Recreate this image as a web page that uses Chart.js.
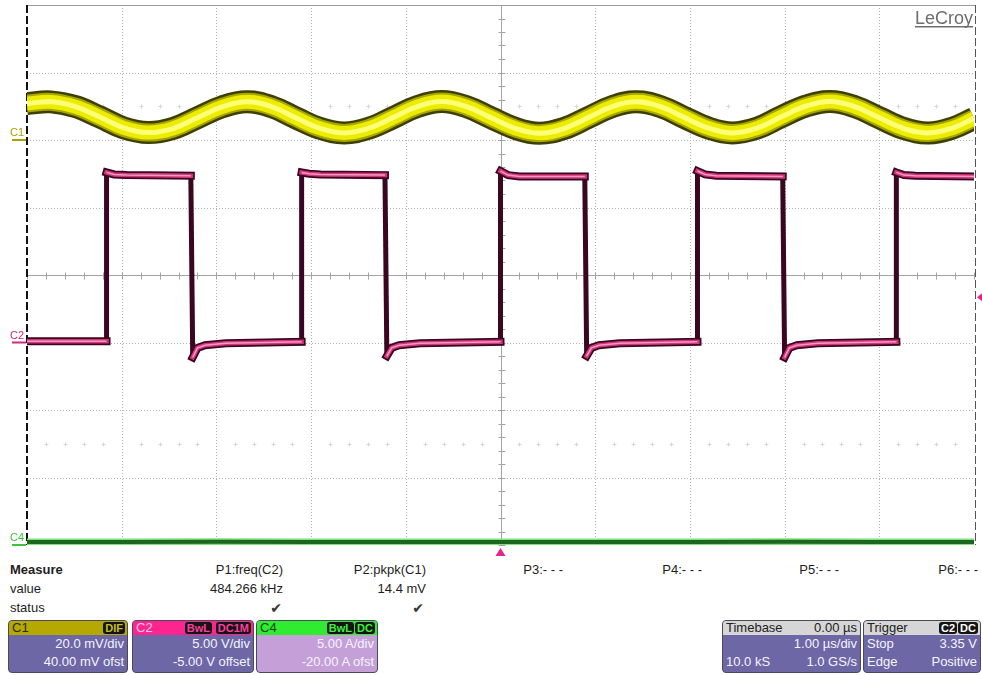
<!DOCTYPE html>
<html>
<head>
<meta charset="utf-8">
<script src="https://cdn.jsdelivr.net/npm/chart.js@4.4.1/dist/chart.umd.min.js"></script>
<style>
body{margin:0;background:#fff;width:982px;height:675px;overflow:hidden;position:relative;font-family:"Liberation Sans",Arial,sans-serif}
#scope{position:absolute;left:0;top:0}
.m{position:absolute;font-size:13px;color:#1e1e1e;white-space:nowrap;line-height:16px}
.r{text-align:right;width:140px}
.chk{font-family:"DejaVu Sans";font-size:14px;color:#333}
.panel{position:absolute;top:620px;height:51px;border:1px solid #4a4a5a;border-radius:4px;overflow:hidden;background:#6d67a6;color:#f4f4ff;font-size:13px}
.hd{height:14px;line-height:14px;padding:0 3px;position:relative;font-size:13px}
.row{height:18px;line-height:18px;padding:0 3px;text-align:right;position:relative}
.row span.l{position:absolute;left:3px}
.badge{position:absolute;top:1px;height:12px;line-height:12px;background:#141414;border-radius:3px;padding:0 2px;font-size:11px;font-weight:bold}
</style>
</head>
<body>
<canvas id="scope" width="982" height="556"></canvas>

<div class="m" style="left:10px;top:562px;font-weight:bold">Measure</div>
<div class="m" style="left:10px;top:581px">value</div>
<div class="m" style="left:10px;top:600px">status</div>

<div class="m r" style="left:143px;top:562px">P1:freq(C2)</div>
<div class="m r" style="left:143px;top:581px">484.266 kHz</div>
<div class="m r chk" style="left:142px;top:600px">✔</div>
<div class="m r" style="left:286px;top:562px">P2:pkpk(C1)</div>
<div class="m r" style="left:286px;top:581px">14.4 mV</div>
<div class="m r chk" style="left:284px;top:600px">✔</div>
<div class="m r" style="left:423px;top:562px">P3:- - -</div>
<div class="m r" style="left:562px;top:562px">P4:- - -</div>
<div class="m r" style="left:699px;top:562px">P5:- - -</div>
<div class="m r" style="left:838px;top:562px">P6:- - -</div>

<div class="panel" style="left:8px;width:118px">
  <div class="hd" style="background:#b5a800;color:#2a2a10">C1<span class="badge" style="right:2px;color:#c8bc20">DIF</span></div>
  <div class="row">20.0 mV/div</div>
  <div class="row">40.00 mV ofst</div>
</div>
<div class="panel" style="left:132px;width:120px">
  <div class="hd" style="background:#ff2590;color:#ffc8e4">C2<span class="badge" style="right:2px;color:#ff3d9c">DC1M</span><span class="badge" style="right:41px;color:#ff3d9c">BwL</span></div>
  <div class="row">5.00 V/div</div>
  <div class="row">-5.00 V offset</div>
</div>
<div class="panel" style="left:256px;width:120px;background:#c5a0d8">
  <div class="hd" style="background:#30ec30;color:#134013">C4<span class="badge" style="right:2px;color:#3cf03c">DC</span><span class="badge" style="right:23px;color:#3cf03c">BwL</span></div>
  <div class="row">5.00 A/div</div>
  <div class="row">-20.00 A ofst</div>
</div>
<div class="panel" style="left:722px;width:137px">
  <div class="hd" style="background:#d6d6d6;color:#222">Timebase<span style="position:absolute;right:3px">0.00 µs</span></div>
  <div class="row">1.00 µs/div</div>
  <div class="row"><span class="l">10.0 kS</span>1.0 GS/s</div>
</div>
<div class="panel" style="left:863px;width:116px">
  <div class="hd" style="background:#d6d6d6;color:#222">Trigger<span class="badge" style="right:2px;color:#fff">DC</span><span class="badge" style="right:23px;color:#fff">C2</span></div>
  <div class="row"><span class="l">Stop</span>3.35 V</div>
  <div class="row"><span class="l">Edge</span>Positive</div>
</div>

<script>
// channel settings, as shown in the panels
const c1Scale = 20, c1Offset = 40;     // mV/div, mV
const c2Scale = 5, c2Offset = -5;      // V/div, V
const c4Scale = 5, c4Offset = -20;     // A/div, A
const trigLevel = 3.35;                // V on C2

// C1: ripple (mV) vs time (us)
const c1Time = [-5.00, -4.75, -4.49, -4.23, -3.98, -3.72, -3.46, -3.20, -2.94, -2.68,
  -2.42, -2.17, -1.91, -1.65, -1.39, -1.13, -0.88, -0.62, -0.36, -0.10,
  0.16, 0.41, 0.67, 0.93, 1.18, 1.43, 1.69, 1.94, 2.20, 2.45,
  2.71, 2.96, 3.22, 3.48, 3.74, 4.00, 4.26, 4.52, 4.78, 5.00];
const c1Ripple = [10.8, 11.3, 9.9, 6.8, 3.6, 2.2, 3.4, 6.6, 9.8, 11.3,
  9.9, 6.7, 3.5, 2.1, 3.5, 6.7, 9.9, 11.4, 9.9, 6.6,
  3.4, 2.0, 3.4, 6.7, 9.9, 11.3, 9.9, 6.7, 3.5, 2.1,
  3.5, 6.8, 10.0, 11.4, 9.9, 6.6, 3.4, 2.1, 3.6, 6.4];

// C2: switch node (V) vs time (us)
const c2Time = [-5.00, -4.16, -4.16, -4.08, -3.95, -3.27, -3.25, -3.20, -3.12, -2.90, -2.10,
  -2.10, -2.02, -1.90, -1.22, -1.20, -1.15, -1.07, -0.85, 0.00,
  0.00, 0.08, 0.20, 0.89, 0.91, 0.96, 1.04, 1.26, 2.08,
  2.08, 2.16, 2.28, 2.98, 3.00, 3.05, 3.13, 3.35, 4.18,
  4.18, 4.26, 4.38, 5.00];
const c2Volts = [0.1, 0.1, 12.6, 12.45, 12.4, 12.35, -1.1, -0.4, -0.2, -0.05, 0.05,
  12.6, 12.5, 12.45, 12.4, -1.0, -0.4, -0.2, -0.05, 0.05,
  12.7, 12.4, 12.3, 12.3, -1.0, -0.4, -0.2, -0.05, 0.05,
  12.7, 12.45, 12.35, 12.3, -1.1, -0.4, -0.2, -0.05, 0.05,
  12.6, 12.4, 12.35, 12.3];

// C4: current (A) vs time (us)
const c4Time = [-5, -4, -3, -2, -1, 0, 1, 2, 3, 4, 5];
const c4Amps = [0.22, 0.22, 0.24, 0.22, 0.23, 0.22, 0.22, 0.23, 0.24, 0.22, 0.22];

const toDiv = (v, scale, offset) => (v + offset) / scale;
const pts = (ts, vs, scale, offset) => ts.map((t, i) => ({x: t, y: toDiv(vs[i], scale, offset)}));

const isEdge = c => Math.abs(c.p1.parsed.x - c.p0.parsed.x) < 0.03;

const scopeGrid = {
  id: 'scopeGrid',
  beforeDatasetsDraw(chart) {
    const {ctx, chartArea: a, scales: {x, y}} = chart;
    const line = (x0, y0, x1, y1) => { ctx.beginPath(); ctx.moveTo(x0, y0); ctx.lineTo(x1, y1); ctx.stroke(); };
    ctx.save();
    ctx.lineWidth = 1;
    ctx.strokeStyle = '#b2b2b2';
    ctx.setLineDash([1, 2]);
    for (let i = -4; i <= 4; i++) {
      if (i === 0) continue;
      const px = Math.round(x.getPixelForValue(i)) + 0.5;
      line(px, a.top, px, a.bottom);
    }
    for (let j = -3; j <= 3; j++) {
      if (j === 0) continue;
      const py = Math.round(y.getPixelForValue(j)) + 0.5;
      line(a.left, py, a.right, py);
    }
    ctx.setLineDash([]);
    // faint sub-division marks
    ctx.strokeStyle = '#d6d6d6';
    [-2.5, 2.5].forEach(d => {
      const py = Math.round(y.getPixelForValue(d)) + 0.5;
      for (let k = -24; k <= 24; k++) {
        if (k % 5 === 0) continue;
        const px = Math.round(x.getPixelForValue(k / 5)) + 0.5;
        line(px - 2, py, px + 2, py);
        line(px, py - 2, px, py + 2);
      }
    });
    ctx.strokeStyle = '#a4a4a4';
    const cx = Math.round(x.getPixelForValue(0)) + 0.5;
    const cy = Math.round(y.getPixelForValue(0)) + 0.5;
    line(cx, a.top, cx, a.bottom);
    line(a.left, cy, a.right, cy);
    for (let k = -25; k <= 25; k++) {
      const px = Math.round(x.getPixelForValue(k / 5)) + 0.5;
      line(px, cy - 3, px, cy + 4);
    }
    for (let k = -20; k <= 20; k++) {
      const py = Math.round(y.getPixelForValue(k / 5)) + 0.5;
      line(cx - 3, py, cx + 4, py);
    }
    ctx.strokeStyle = '#9c9c9c';
    line(a.left, a.top + 0.5, a.right + 1, a.top + 0.5);
    ctx.strokeStyle = '#111';
    ctx.lineWidth = 2;
    ctx.setLineDash([8, 3]);
    line(a.left, a.top, a.left, a.bottom);
    ctx.lineWidth = 1;
    ctx.strokeStyle = '#555';
    line(a.right + 1.5, a.top, a.right + 1.5, a.bottom);
    ctx.restore();
  },
  afterDraw(chart) {
    const {ctx, chartArea: a, scales: {x, y}} = chart;
    ctx.save();
    ctx.font = '11px "Liberation Sans", Arial, sans-serif';
    const marks = [
      ['C1', toDiv(0, c1Scale, c1Offset), '#aba000'],
      ['C2', toDiv(0, c2Scale, c2Offset), '#d02c78'],
      ['C4', toDiv(0, c4Scale, c4Offset), '#3cc43c']
    ];
    marks.forEach(([name, d, col]) => {
      const py = y.getPixelForValue(d);
      ctx.fillStyle = col;
      ctx.fillText(name, 10, py - 4);
      ctx.fillRect(12, py - 1, a.left - 13, 2);
    });
    // trigger position and level markers
    ctx.fillStyle = '#e8238c';
    const tx = x.getPixelForValue(0);
    ctx.beginPath();
    ctx.moveTo(tx, a.bottom + 3);
    ctx.lineTo(tx + 5, a.bottom + 11);
    ctx.lineTo(tx - 5, a.bottom + 11);
    ctx.fill();
    const ty = y.getPixelForValue(toDiv(trigLevel, c2Scale, c2Offset));
    ctx.beginPath();
    ctx.moveTo(a.right + 3, ty);
    ctx.lineTo(a.right + 8, ty - 4);
    ctx.lineTo(a.right + 8, ty + 4);
    ctx.fill();
    // logo
    ctx.font = '18px "Liberation Sans", Arial, sans-serif';
    ctx.fillStyle = '#6e6e6e';
    ctx.textAlign = 'right';
    ctx.fillText('LeCroy', a.right - 1, a.top + 19);
    const w = ctx.measureText('LeCroy').width;
    ctx.fillRect(a.right - 1 - w, a.top + 21, w, 1.5);
    ctx.restore();
  }
};

// dataset 0 is drawn on top, so each band lists its core first
const band = (data, tension, layers, extra) => layers.map(([color, width]) => ({
  data, showLine: true, tension, pointRadius: 0, fill: false,
  borderColor: color, borderWidth: width, ...extra
}));

const c1Pts = pts(c1Time, c1Ripple, c1Scale, c1Offset);
const c2Pts = pts(c2Time, c2Volts, c2Scale, c2Offset);
const c4Pts = pts(c4Time, c4Amps, c4Scale, c4Offset);

const datasets = [
  // C2 switch node
  {data: c2Pts, showLine: true, tension: 0, pointRadius: 0, borderWidth: 1.5,
    segment: {borderColor: c => isEdge(c) ? 'rgba(0,0,0,0)' : '#f49ac4'}},
  {data: c2Pts, showLine: true, tension: 0, pointRadius: 0, borderWidth: 4.5, borderCapStyle: 'square',
    segment: {borderColor: c => isEdge(c) ? 'rgba(0,0,0,0)' : '#d2357a'}},
  {data: c2Pts, showLine: true, tension: 0, pointRadius: 0, borderColor: '#3a0620', borderCapStyle: 'square',
    borderWidth: 8, segment: {borderWidth: c => isEdge(c) ? 5 : 8}},
  // C1 ripple
  ...band(c1Pts, 0.4, [['#ffff78', 5], ['#ecec00', 14], ['#a6a600', 18], ['#3f3f00', 23]]),
  // C4 current
  ...band(c4Pts, 0, [['#1d661d', 4], ['#7fe27f', 7]])
];

new Chart(document.getElementById('scope'), {
  type: 'scatter',
  data: {datasets},
  options: {
    responsive: false,
    animation: false,
    events: [],
    layout: {padding: {left: 27, top: 5, right: 8, bottom: 11}},
    plugins: {legend: {display: false}, tooltip: {enabled: false}},
    scales: {
      x: {type: 'linear', min: -5, max: 5, display: false},
      y: {type: 'linear', min: -4, max: 4, display: false}
    }
  },
  plugins: [scopeGrid]
});
</script>
</body>
</html>
